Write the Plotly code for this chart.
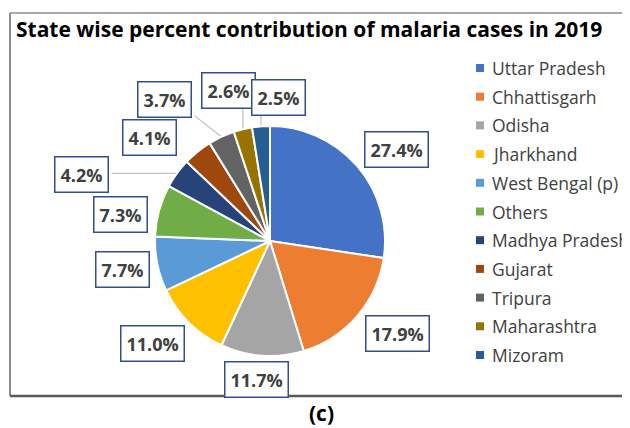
import math
import plotly.graph_objects as go

# data
states = ["Uttar Pradesh", "Chhattisgarh", "Odisha", "Jharkhand", "West Bengal (p)",
          "Others", "Madhya Pradesh", "Gujarat", "Tripura", "Maharashtra", "Mizoram"]
percent = [27.4, 17.9, 11.7, 11.0, 7.7, 7.3, 4.2, 4.1, 3.7, 2.6, 2.5]
colors = ["#4472C4", "#ED7D31", "#A5A5A5", "#FFC000", "#5B9BD5", "#70AD47",
          "#264478", "#9E480E", "#636363", "#997300", "#255E91"]
title_text = "State wise percent contribution of malaria cases in 2019"
caption = "(c)"

# layout (page pixels); the page body has an 8px margin
OFF = 8
W, H = 622, 420
CX, CY, R = 270, 241, 115
# per-label (distance from centre, angle nudge in degrees)
label_nudge = [(156, 5), (158, -4.7), (139, 1.8), (156, 4), (150, 0.8), (152, -5.4),
               (200, -16.5), (159, -10.4), (176, -11.7), (156, -1.8), (144, 8)]
leader_idx = {6, 8, 9, 10}
BOX_HW, BOX_HH = 30, 16


def px(x):
    return (x - OFF) / W


def py(y):
    return 1 - (y - OFF) / H


fig = go.Figure()
fig.add_trace(go.Pie(
    values=percent, labels=states, sort=False, direction='clockwise', rotation=0,
    marker=dict(colors=colors, line=dict(color='white', width=2)),
    textinfo='none', showlegend=False,
    domain=dict(x=[px(CX - R), px(CX + R)], y=[py(CY + R), py(CY - R)]),
))

shapes = []
annotations = []

# border of chart area
shapes.append(dict(type='line', xref='paper', yref='paper', x0=px(10), x1=px(10), y0=py(13), y1=py(396),
                   line=dict(color='#8C8C8C', width=2)))
shapes.append(dict(type='line', xref='paper', yref='paper', x0=px(10), x1=1, y0=py(13), y1=py(13),
                   line=dict(color='#8C8C8C', width=1.5)))
shapes.append(dict(type='line', xref='paper', yref='paper', x0=px(10), x1=1, y0=py(396), y1=py(396),
                   line=dict(color='#595959', width=2.5)))

total = sum(percent)
cum = 0
for i, v in enumerate(percent):
    mid = (cum + v / 2) / total * 360
    cum += v
    dist, nudge = label_nudge[i]
    a = math.radians(mid + nudge)
    lx = CX + dist * math.sin(a)
    ly = CY - dist * math.cos(a)
    annotations.append(dict(
        x=px(lx), y=py(ly), xref='paper', yref='paper', showarrow=False,
        text=f"{v:.1f}%", font=dict(family="Open Sans", size=18, color='#404040', weight='bold'),
        bgcolor='white', bordercolor='#2F4F8F', borderwidth=1.5, borderpad=5,
        xanchor='center', yanchor='middle'))
    if i in leader_idx:
        m = math.radians(mid)
        ex = CX + R * math.sin(m)
        ey = CY - R * math.cos(m)
        bx = min(max(ex, lx - BOX_HW), lx + BOX_HW)
        by = min(max(ey, ly - BOX_HH), ly + BOX_HH)
        shapes.append(dict(type='line', xref='paper', yref='paper', x0=px(ex), y0=py(ey),
                           x1=px(bx), y1=py(by), line=dict(color='#BFBFBF', width=1.2), layer='below'))

# legend drawn by hand
for i, (s, c) in enumerate(zip(states, colors)):
    yy = 68 + 28.7 * i
    shapes.append(dict(type='rect', xref='paper', yref='paper', x0=px(476), x1=px(484),
                       y0=py(yy + 4), y1=py(yy - 4), fillcolor=c, line=dict(width=0)))
    annotations.append(dict(x=px(490), y=py(yy), xref='paper', yref='paper', showarrow=False,
                            text=s, xanchor='left', yanchor='middle',
                            font=dict(family="Open Sans", size=17.5, color='#404040')))

annotations.append(dict(x=px(14), y=py(29), xref='paper', yref='paper', showarrow=False,
                        text=title_text, xanchor='left', yanchor='middle',
                        font=dict(family="Open Sans", size=21, color='black', weight='bold')))
annotations.append(dict(x=px(321), y=py(413), xref='paper', yref='paper', showarrow=False,
                        text=caption, xanchor='center', yanchor='middle',
                        font=dict(family="Open Sans", size=21, color='black', weight='bold')))

fig.update_layout(
    width=W, height=H, margin=dict(l=0, r=0, t=0, b=0),
    paper_bgcolor='white', plot_bgcolor='white',
    shapes=shapes, annotations=annotations,
)

fig.write_html("out.html")
